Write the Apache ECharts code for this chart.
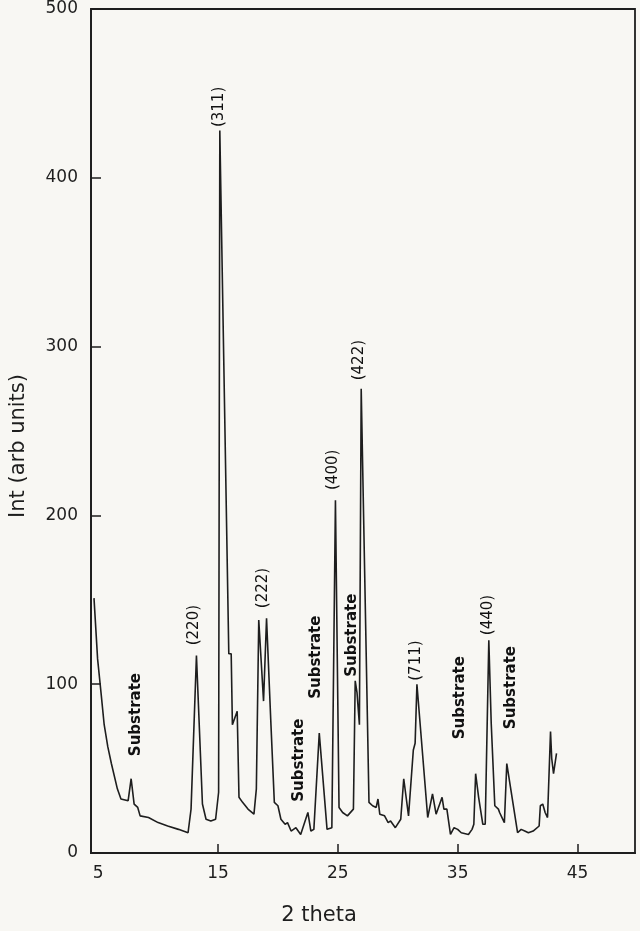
<!DOCTYPE html>
<html>
<head>
<meta charset="utf-8">
<script src="https://cdn.jsdelivr.net/npm/echarts@6/dist/echarts.min.js"></script>
<style>
html,body{margin:0;padding:0;background:#f8f7f3;}
#chart{width:640px;height:931px;}
</style>
</head>
<body>
<div id="chart"></div>
<script>
var twoTheta = [4.65,4.95,5.25,5.5,5.8,6.1,6.6,6.9,7.5,7.75,8.0,8.3,8.5,9.2,10.0,10.8,11.7,12.5,12.75,13.2,13.7,14.0,14.4,14.8,15.05,15.15,15.9,16.1,16.2,16.6,16.75,17.05,17.5,18.0,18.2,18.4,18.8,19.05,19.4,19.7,20.0,20.25,20.6,20.8,21.1,21.5,21.9,22.5,22.75,23.0,23.45,24.1,24.5,24.8,25.1,25.4,25.8,26.3,26.45,26.6,26.8,26.95,27.6,27.9,28.2,28.35,28.5,28.9,29.2,29.4,29.8,30.25,30.5,30.9,31.3,31.45,31.6,32.5,32.9,33.2,33.7,33.85,34.1,34.4,34.7,35.0,35.3,35.9,36.2,36.35,36.5,36.75,36.9,37.1,37.3,37.6,37.8,37.95,38.1,38.4,38.5,38.7,38.9,39.1,40.0,40.3,40.6,40.9,41.3,41.8,41.9,42.1,42.3,42.5,42.75,42.85,43.0,43.25];
var intensity = [151,115,94,76,63,53,38,32,31,44,29,27,22,21,18,16,14,12,26,117,29,20,19,20,36,428,118,118,76,84,33,30,26,23,38,138,90,139,79,30,28,20,17,18,13,15,11,24,13,14,71,14,15,209,27,24,22,26,102,95,76,275,30,28,27,32,23,22,18,19,15,20,44,22,61,65,100,21,35,23,33,26,26,11,15,14,12,11,14,17,47,33,32,17,17,126,77,77,28,26,24,21,18,53,12,14,13,12,13,16,28,29,24,21,72,56,47,59];

var xTickLabels = [5,15,25,35,45];
var xTickMarks = [15,25,35,45];

var annoText = ['Substrate','(220)','(311)','(222)','Substrate','Substrate','(400)','Substrate','(422)','(711)','Substrate','(440)','Substrate'];
var annoX = [8.17,13.0,15.08,18.75,21.75,23.17,24.58,26.17,26.75,31.5,35.17,37.5,39.5];
var annoY = [82,135,442,157,55,116,227,129,292,114,92,141,98];

var chart = echarts.init(document.getElementById('chart'), null, {renderer:'canvas'});
var font = 'DejaVu Sans';
var ink = '#1e1e1e';

var lineData = twoTheta.map(function(x,i){return [x,intensity[i]];});
var annoData = annoText.map(function(t,i){
  var isSub = t === 'Substrate';
  return {value:[annoX[i],annoY[i]], label:{formatter:t, fontSize: isSub?15:15, fontWeight: isSub?'bold':'normal'}};
});

chart.setOption({
  backgroundColor:'#f8f7f3',
  animation:false,
  grid:{left:90,right:5,top:9,bottom:74,show:true,borderColor:ink,borderWidth:1.8,backgroundColor:'transparent'},
  xAxis:{
    type:'value',min:4.4,max:49.8,
    name:'2 theta',nameLocation:'middle',nameGap:52,
    nameTextStyle:{fontFamily:font,fontSize:21,color:ink,padding:[0,88,0,0]},
    axisLine:{show:true,lineStyle:{color:ink,width:1.8}},
    axisTick:{show:true,inside:true,length:9,customValues:xTickMarks,lineStyle:{color:ink,width:1.5}},
    axisLabel:{customValues:xTickLabels,fontFamily:font,fontSize:17,color:ink,margin:12},
    splitLine:{show:false}
  },
  yAxis:{
    type:'value',min:0,max:500,interval:100,
    name:'Int (arb units)',nameLocation:'middle',nameGap:62,
    nameTextStyle:{fontFamily:font,fontSize:21,color:ink,padding:[0,30,0,0]},
    axisLine:{show:true,lineStyle:{color:ink,width:1.8}},
    axisTick:{show:true,inside:true,length:10,lineStyle:{color:ink,width:1.5}},
    axisLabel:{fontFamily:font,fontSize:17,color:ink,margin:13},
    splitLine:{show:false}
  },
  series:[
    {type:'line',data:lineData,symbol:'none',lineStyle:{color:ink,width:1.6},z:3},
    {type:'scatter',data:annoData,symbolSize:0,silent:true,itemStyle:{opacity:1,color:ink},
     label:{show:true,position:'inside',rotate:90,color:'#111',opacity:1,textBorderWidth:0,fontFamily:font},z:4}
  ]
});
</script>
</body>
</html>
